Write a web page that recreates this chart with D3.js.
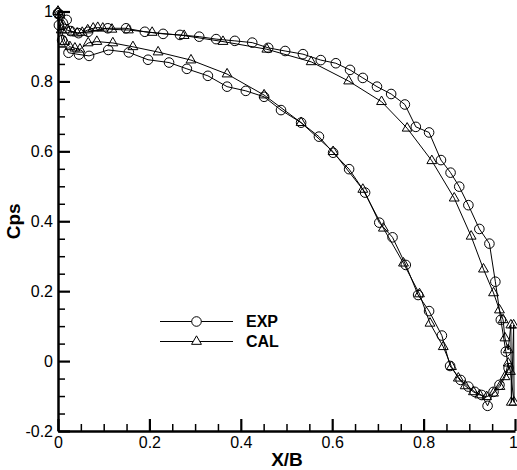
<!DOCTYPE html>
<html>
<head>
<meta charset="utf-8">
<script src="https://cdn.jsdelivr.net/npm/d3@7/dist/d3.min.js"></script>
<style>
  html, body { margin: 0; padding: 0; background: #fff; }
  svg { display: block; font-family: Arial, "Liberation Sans", sans-serif; }
</style>
</head>
<body>
<svg id="chart" width="517" height="470"></svg>
<script>
// Measured surface pressure coefficient, walked around the blade (upper side, then lower side back)
const expX = [0.000,0.004,0.019,0.028,0.045,0.066,0.109,0.149,0.190,0.230,0.267,0.309,0.346,0.387,0.425,0.460,0.497,0.536,0.575,0.608,0.639,0.667,0.698,0.729,0.759,0.783,0.812,0.838,0.859,0.878,0.898,0.922,0.944,0.957,0.969,0.980,0.986,
              0.966,0.953,0.940,0.927,0.912,0.898,0.881,0.858,0.840,0.812,0.788,0.761,0.732,0.703,0.672,0.637,0.602,0.571,0.532,0.488,0.451,0.411,0.370,0.328,0.282,0.243,0.197,0.155,0.110,0.068,0.046,0.023,0.009,0.002,0.000];
const expY = [0.995,0.990,0.976,0.944,0.938,0.942,0.952,0.952,0.942,0.936,0.933,0.928,0.921,0.916,0.911,0.896,0.887,0.878,0.861,0.852,0.833,0.810,0.785,0.764,0.734,0.670,0.654,0.575,0.539,0.499,0.446,0.378,0.336,0.227,0.118,0.027,-0.020,
              -0.068,-0.088,-0.128,-0.097,-0.088,-0.073,-0.054,-0.014,0.073,0.143,0.189,0.275,0.354,0.396,0.482,0.549,0.596,0.642,0.682,0.718,0.756,0.773,0.785,0.816,0.836,0.854,0.862,0.883,0.890,0.873,0.877,0.882,0.918,0.961,0.995];

// Computed surface pressure coefficient, same ordering
const calX = [0.000,0.004,0.011,0.020,0.031,0.042,0.053,0.065,0.077,0.087,0.098,0.118,0.154,0.206,0.276,0.361,0.457,0.554,0.636,0.708,0.764,0.818,0.867,0.904,0.931,0.953,0.966,0.974,0.978,0.985,
              0.991,0.992,0.997,0.998,0.990,
              0.985,0.978,0.967,0.953,0.938,0.923,0.909,0.891,0.876,0.861,0.843,0.814,0.791,0.756,0.712,0.667,0.602,0.532,0.451,0.370,0.291,0.219,0.164,0.120,0.085,0.066,0.048,0.037,0.026,0.015,0.007,0.000];
const calY = [1.000,0.990,0.961,0.947,0.941,0.938,0.940,0.947,0.952,0.954,0.952,0.949,0.947,0.940,0.931,0.914,0.892,0.856,0.801,0.742,0.666,0.573,0.466,0.357,0.263,0.195,0.146,0.118,0.066,0.032,
              0.103,-0.118,0.103,-0.118,-0.030,
              -0.006,-0.045,-0.073,-0.092,-0.102,-0.097,-0.088,-0.071,-0.049,-0.016,0.041,0.108,0.192,0.280,0.380,0.491,0.599,0.682,0.761,0.821,0.861,0.884,0.899,0.910,0.914,0.910,0.892,0.895,0.899,0.914,0.947,1.000];

const xMajorTicks = [0, 0.2, 0.4, 0.6, 0.8, 1];
const yMajorTicks = [-0.2, 0, 0.2, 0.4, 0.6, 0.8, 1];
const xMinorTicks = d3.range(0, 1.0001, 0.05).map(v => +v.toFixed(2)).filter(v => !xMajorTicks.includes(v));
const yMinorTicks = d3.range(-0.2, 1.0001, 0.05).map(v => +v.toFixed(2)).filter(v => !yMajorTicks.includes(v));

const seriesNames = ["EXP", "CAL"];

const svg = d3.select("#chart");
const x = d3.scaleLinear().domain([0, 1]).range([58, 515]);
const y = d3.scaleLinear().domain([-0.2, 1]).range([431, 11.5]);

const fmt = d => (Math.abs(d) < 1e-9 ? "0" : String(+d.toFixed(1)));

// Minor ticks (inward)
svg.append("g").attr("transform", `translate(0,${y(-0.2)})`)
  .call(d3.axisBottom(x).tickValues(xMinorTicks).tickSize(-7).tickSizeOuter(0).tickFormat(""))
  .call(g => g.select(".domain").remove())
  .call(g => g.selectAll("line").attr("stroke", "#000").attr("stroke-width", 1.5));
svg.append("g").attr("transform", `translate(${x(0)},0)`)
  .call(d3.axisLeft(y).tickValues(yMinorTicks).tickSize(-7).tickSizeOuter(0).tickFormat(""))
  .call(g => g.select(".domain").remove())
  .call(g => g.selectAll("line").attr("stroke", "#000").attr("stroke-width", 1.5));

// Major ticks and labels
const xAxis = svg.append("g").attr("transform", `translate(0,${y(-0.2)})`)
  .call(d3.axisBottom(x).tickValues(xMajorTicks).tickSize(-12).tickSizeOuter(0).tickPadding(6).tickFormat(fmt));
const yAxis = svg.append("g").attr("transform", `translate(${x(0)},0)`)
  .call(d3.axisLeft(y).tickValues(yMajorTicks).tickSize(-12).tickSizeOuter(0).tickPadding(5).tickFormat(fmt));
[xAxis, yAxis].forEach(g => {
  g.select(".domain").attr("stroke", "#000").attr("stroke-width", 2.5);
  g.selectAll(".tick line").attr("stroke", "#000").attr("stroke-width", 2.2);
  g.selectAll(".tick text").attr("fill", "#000").attr("font-size", 16)
    .attr("font-family", "Arial, 'Liberation Sans', sans-serif");
});
xAxis.selectAll(".tick text").attr("dy", "0.72em").attr("y", 5);
// keep the last x label inside the canvas edge
xAxis.selectAll(".tick text").filter(d => d === 1).attr("x", -2);

// Axis titles
svg.append("text").attr("x", 287).attr("y", 466).attr("text-anchor", "middle")
  .attr("font-size", 19).attr("font-weight", "bold").text("X/B");
svg.append("text").attr("transform", `translate(20,${y(0.4)}) rotate(-90)`).attr("text-anchor", "middle")
  .attr("font-size", 19).attr("font-weight", "bold").text("Cps");

const expData = expX.map((v, i) => [v, expY[i]]);
const calData = calX.map((v, i) => [v, calY[i]]);

const line = d3.line().x(d => x(d[0])).y(d => y(d[1]));
const circleSym = d3.symbol(d3.symbolCircle, Math.PI * 4.8 * 4.8);
const triSym = d3.symbol(d3.symbolTriangle, 42);

function drawSeries(data, sym) {
  svg.append("path").datum(data).attr("d", line)
    .attr("fill", "none").attr("stroke", "#000").attr("stroke-width", 1);
  svg.append("g").selectAll("path").data(data).join("path")
    .attr("transform", d => `translate(${x(d[0])},${y(d[1])})`)
    .attr("d", sym)
    .attr("fill", "none").attr("stroke", "#000").attr("stroke-width", 1);
}
drawSeries(expData, circleSym);
drawSeries(calData, triSym);

// Legend
const legend = svg.append("g");
const legendRows = [{ name: seriesNames[0], sym: circleSym, y: 321.5 }, { name: seriesNames[1], sym: triSym, y: 341.5 }];
legendRows.forEach(r => {
  legend.append("line").attr("x1", 160).attr("x2", 233).attr("y1", r.y).attr("y2", r.y)
    .attr("stroke", "#000").attr("stroke-width", 1);
  legend.append("path").attr("transform", `translate(196.5,${r.y})`).attr("d", r.sym)
    .attr("fill", "#fff").attr("stroke", "#000").attr("stroke-width", 1);
  legend.append("text").attr("x", 246).attr("y", r.y + 5.8)
    .attr("font-size", 16).attr("font-weight", "bold").text(r.name);
});
</script>
</body>
</html>
